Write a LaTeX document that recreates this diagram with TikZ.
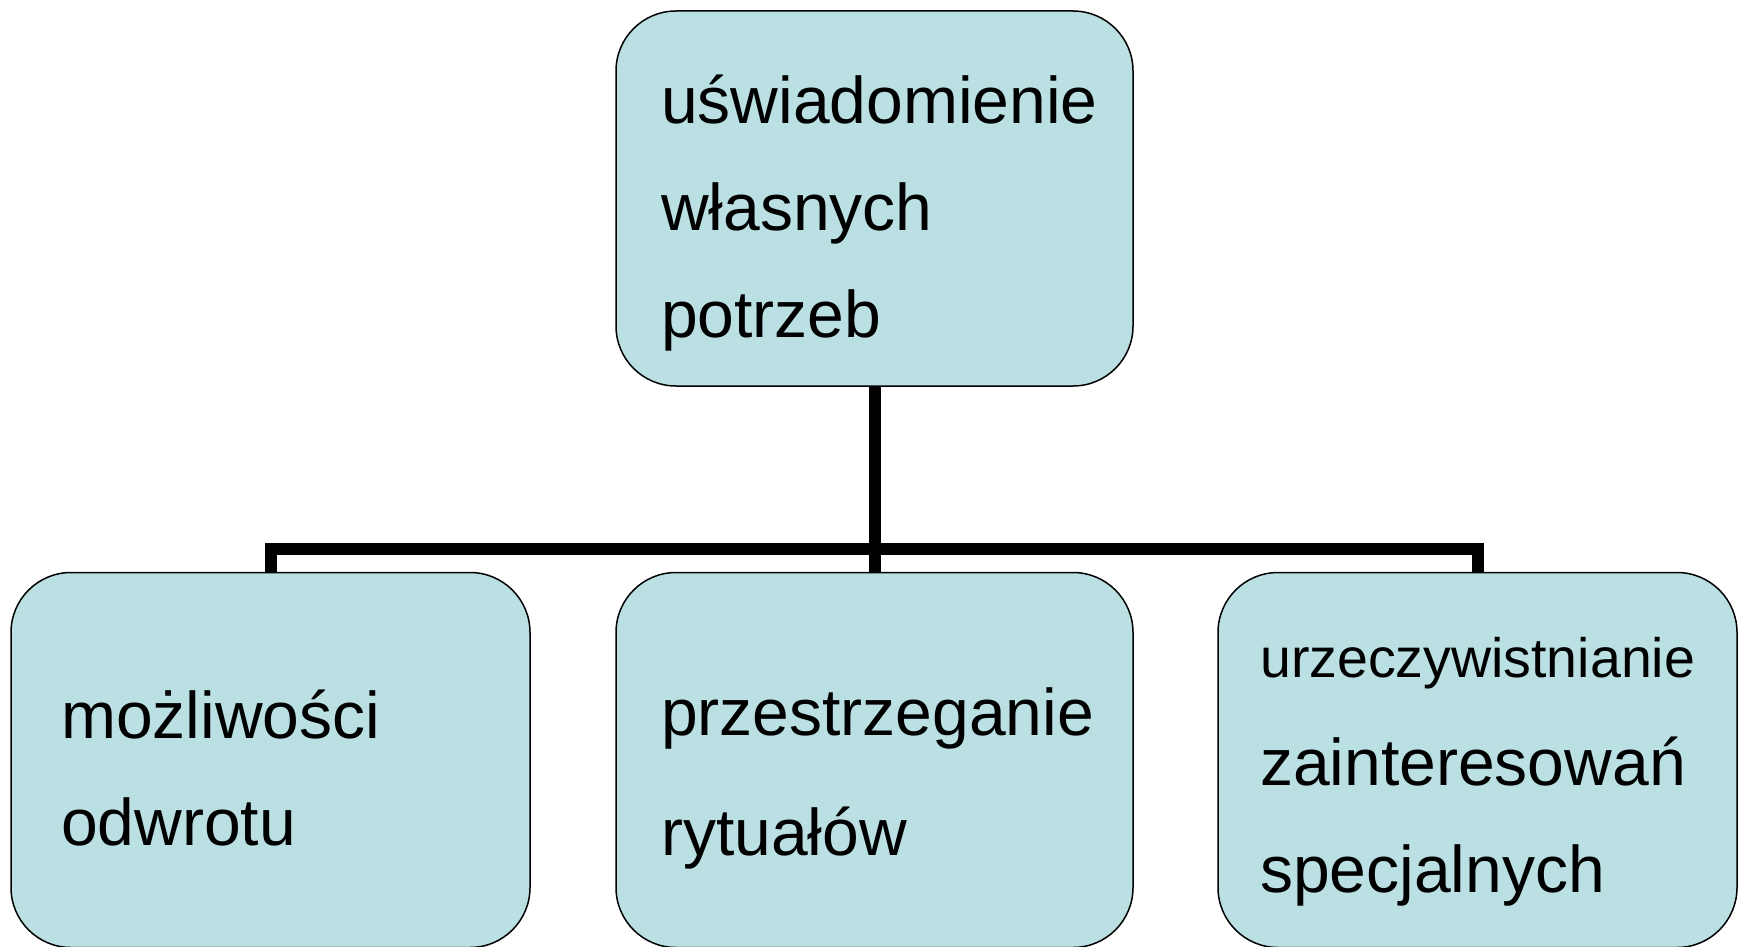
\documentclass[tikz,border=0pt]{standalone}
\usepackage{fontspec}
\setmainfont{Liberation Sans}
\definecolor{boxfill}{RGB}{186,224,227}
\begin{document}
\begin{tikzpicture}[x=1pt,y=-1pt,
  box/.style={draw=black, line width=1.5pt, fill=boxfill, rounded corners=60pt,
    minimum width=517pt, minimum height=375pt, inner sep=0pt},
  conn/.style={draw=black, line width=12pt, line join=miter},
  big/.style={anchor=base west, inner sep=0pt, font=\fontsize{66}{66}\selectfont},
  small/.style={anchor=base west, inner sep=0pt, font=\fontsize{55.5}{55.5}\selectfont}]
\useasboundingbox (0,0) rectangle (1740,947);
% boxes
\node[box] (top) at (874.5,198.5) {};
\node[box, minimum width=519pt] (left) at (270.5,760) {};
\node[box] (mid) at (874.5,760) {};
\node[box, minimum width=519pt] (right) at (1477.5,760) {};
% connectors
\coordinate (j) at (874.5,549);
\draw[conn] (top.south) -- (mid.north);
\draw[conn] (left.north) |- (j) -| (right.north);
% texts
\node[big] (t1) at (661,124) {uświadomienie};
\node[big] (t2) at (661,230) {własnych};
\node[big] (t3) at (661,337) {potrzeb};
\node[big] (l1) at (61,738) {możliwości};
\node[big] (l2) at (61,845) {odwrotu};
\node[big] (m1) at (661,735) {przestrzeganie};
\node[big] (m2) at (661,855) {rytuałów};
\node[small] (r1) at (1260,677) {urzeczywistnianie};
\node[big] (r2) at (1260,785) {zainteresowań};
\node[big] (r3) at (1260,892) {specjalnych};
\end{tikzpicture}
\end{document}
